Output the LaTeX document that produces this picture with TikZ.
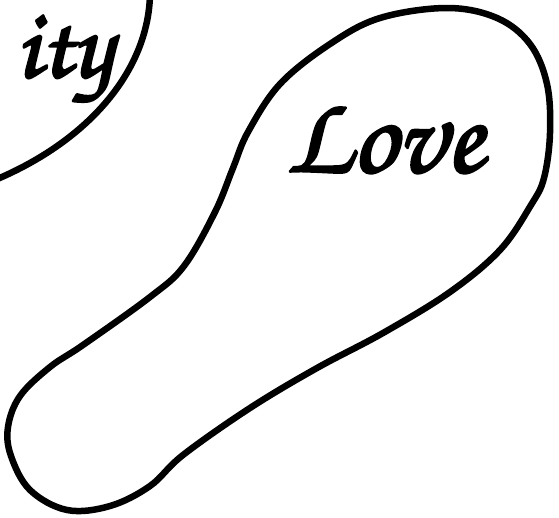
\documentclass[tikz,border=0pt]{standalone}
\newcommand{\heavyon}{\special{pdf:literal direct 2 Tr 2.5 w 1 j}}
\newcommand{\heavyoff}{\special{pdf:literal direct 0 Tr}}
\begin{document}
\begin{tikzpicture}[x=1pt,y=-1pt,
  outline/.style={line width=6.5pt, line join=round, draw=black},
  script/.style={font=\fontencoding{T1}\fontfamily{pzc}\fontsize{112}{120}\selectfont, inner sep=0pt},
  smallscript/.style={script, font=\fontencoding{T1}\fontfamily{pzc}\fontsize{100}{110}\selectfont}]
\useasboundingbox (0,0) rectangle (559,517);
\fill[white] (0,0) rectangle (559,517);
% big blob
\draw[outline] plot[smooth cycle, tension=0.6] coordinates {
 (447,8) (497,18) (530,44) (547,84) (550,133) (544,178) (531,205) (500,250)
 (450,292) (383,333) (317,368) (250,408) (183,455) (150,486) (110,506)
 (67,510) (30,490) (11,456) (8,427) (20,396) (50,367) (83,345) (150,297)
 (184,266) (215,212) (233,168) (248,132) (280,84) (330,44) (380,18)};
% partial shape top-left
\draw[outline] (150,-5) .. controls (148,70) and (90,140) .. (-5,180);
\node[script, anchor=base west] (love) at (286,172) {\heavyon Love\heavyoff};
\node[smallscript, anchor=base east] (ity) at (112,77) {\heavyon ity\heavyoff};
\end{tikzpicture}
\end{document}
